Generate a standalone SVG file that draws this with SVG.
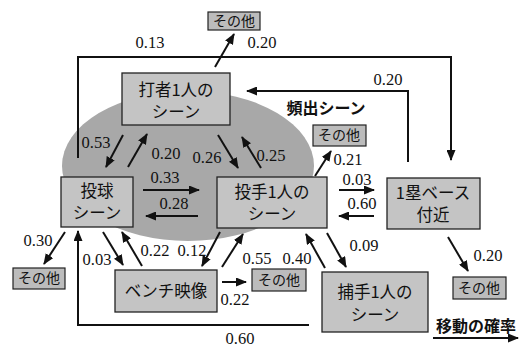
<svg xmlns="http://www.w3.org/2000/svg" width="520" height="347" viewBox="0 0 520 347">
<style>
.bg{fill:#ffffff}
.ell{fill:#a8a8a8;stroke:none}
.box{fill:#c4c4c4;stroke:#222;stroke-width:1.3}
.oth{fill:#bcbcbc;stroke:#222;stroke-width:1.2}
.jp{font-family:"Noto Sans CJK JP","Noto Sans",sans-serif;fill:#111;text-anchor:middle}
.big{font-size:16.5px}
.sm{font-size:14px}
.num{font-family:"Liberation Serif",serif;font-size:16.5px;fill:#111;text-anchor:middle}
.ar{fill:none;stroke:#111;stroke-width:2;marker-end:url(#ah)}
</style>
<defs>
<marker id="ah" markerUnits="userSpaceOnUse" markerWidth="11" markerHeight="9" refX="10" refY="4.5" orient="auto">
<path d="M0,0 L11,4.5 L0,9 z" fill="#111"/>
</marker>
</defs>
<rect class="bg" x="0" y="0" width="520" height="347"/>
<ellipse id="freq-area" class="ell" cx="188" cy="166" rx="126" ry="75"/>
<text class="jp" x="326" y="114" style="font-size:16px;font-weight:bold">頻出シーン</text>

<g id="connectors">
<path class="ar" d="M78,158 V57 H451 V160"/>
<path class="ar" d="M408,162 V91 H247"/>
<path class="ar" d="M215,67 L234,34"/>
<path class="ar" d="M123,135 L106,167"/>
<path class="ar" d="M128,167 L147,134"/>
<path class="ar" d="M218,135 L238,168"/>
<path class="ar" d="M261,168 L242,137"/>
<path class="ar" d="M143,190 L199,190"/>
<path class="ar" d="M198,216 L146,216"/>
<path class="ar" d="M315,176 L331,151"/>
<path class="ar" d="M339,190 L374,190"/>
<path class="ar" d="M374,216 L339,216"/>
<path class="ar" d="M327,233 L346,267"/>
<path class="ar" d="M325,268 L306,234"/>
<path class="ar" d="M220,232 L202,266"/>
<path class="ar" d="M222,267 L243,234"/>
<path class="ar" d="M222,282 L246,282"/>
<path class="ar" d="M103,232 L123,265"/>
<path class="ar" d="M142,266 L122,232"/>
<path class="ar" d="M65,232 L44,264"/>
<path class="ar" d="M309,325 H78 V231"/>
<path class="ar" d="M448,237 L468,271"/>
<path class="ar" d="M433,338 L518,338"/>
</g>

<g id="labels">
<text class="num" x="150" y="48">0.13</text>
<text class="num" x="262" y="48">0.20</text>
<text class="num" x="388" y="85">0.20</text>
<text class="num" x="96" y="148">0.53</text>
<text class="num" x="166" y="159">0.20</text>
<text class="num" x="207" y="163">0.26</text>
<text class="num" x="271" y="161">0.25</text>
<text class="num" x="165" y="183">0.33</text>
<text class="num" x="174" y="209">0.28</text>
<text class="num" x="348" y="165">0.21</text>
<text class="num" x="357" y="185">0.03</text>
<text class="num" x="362" y="209">0.60</text>
<text class="num" x="364" y="251">0.09</text>
<text class="num" x="297" y="264">0.40</text>
<text class="num" x="257" y="264">0.55</text>
<text class="num" x="155" y="256">0.22</text>
<text class="num" x="192" y="256">0.12</text>
<text class="num" x="97" y="265">0.03</text>
<text class="num" x="38" y="246">0.30</text>
<text class="num" x="235" y="305">0.22</text>
<text class="num" x="240" y="344">0.60</text>
<text class="num" x="488" y="261">0.20</text>
</g>

<g id="n-other-top"><rect class="oth" x="208" y="12" width="52" height="18"/><text class="jp sm" x="234" y="26">その他</text></g>
<g id="n-batter"><rect class="box" x="122" y="73" width="108" height="52"/><text class="jp big" x="176" y="96"><tspan x="176">打者1人の</tspan><tspan x="176" dy="22">シーン</tspan></text></g>
<g id="n-pitch"><rect class="box" x="61" y="177" width="72" height="50"/><text class="jp big" x="97" y="197"><tspan x="97">投球</tspan><tspan x="97" dy="22">シーン</tspan></text></g>
<g id="n-pitcher"><rect class="box" x="217" y="177" width="110" height="51"/><text class="jp big" x="272" y="198"><tspan x="272">投手1人の</tspan><tspan x="272" dy="22">シーン</tspan></text></g>
<g id="n-first"><rect class="box" x="387" y="178" width="93" height="51"/><text class="jp big" x="433" y="199"><tspan x="433">1塁ベース</tspan><tspan x="433" dy="22">付近</tspan></text></g>
<g id="n-other-mid"><rect class="oth" x="313" y="125" width="53" height="21"/><text class="jp sm" x="339" y="140">その他</text></g>
<g id="n-bench"><rect class="box" x="115" y="270" width="102" height="42"/><text class="jp big" x="166" y="297">ベンチ映像</text></g>
<g id="n-catcher"><rect class="box" x="322" y="272" width="106" height="60"/><text class="jp big" x="375" y="298"><tspan x="375">捕手1人の</tspan><tspan x="375" dy="23">シーン</tspan></text></g>
<g id="n-other-left"><rect class="oth" x="13" y="268" width="52" height="21"/><text class="jp sm" x="39" y="283">その他</text></g>
<g id="n-other-bench"><rect class="oth" x="252" y="269" width="54" height="22"/><text class="jp sm" x="279" y="285">その他</text></g>
<g id="n-other-right"><rect class="oth" x="453" y="277" width="53" height="22"/><text class="jp sm" x="479" y="293">その他</text></g>
<text class="jp" x="476" y="332" style="font-size:16px;font-weight:bold">移動の確率</text>
</svg>
